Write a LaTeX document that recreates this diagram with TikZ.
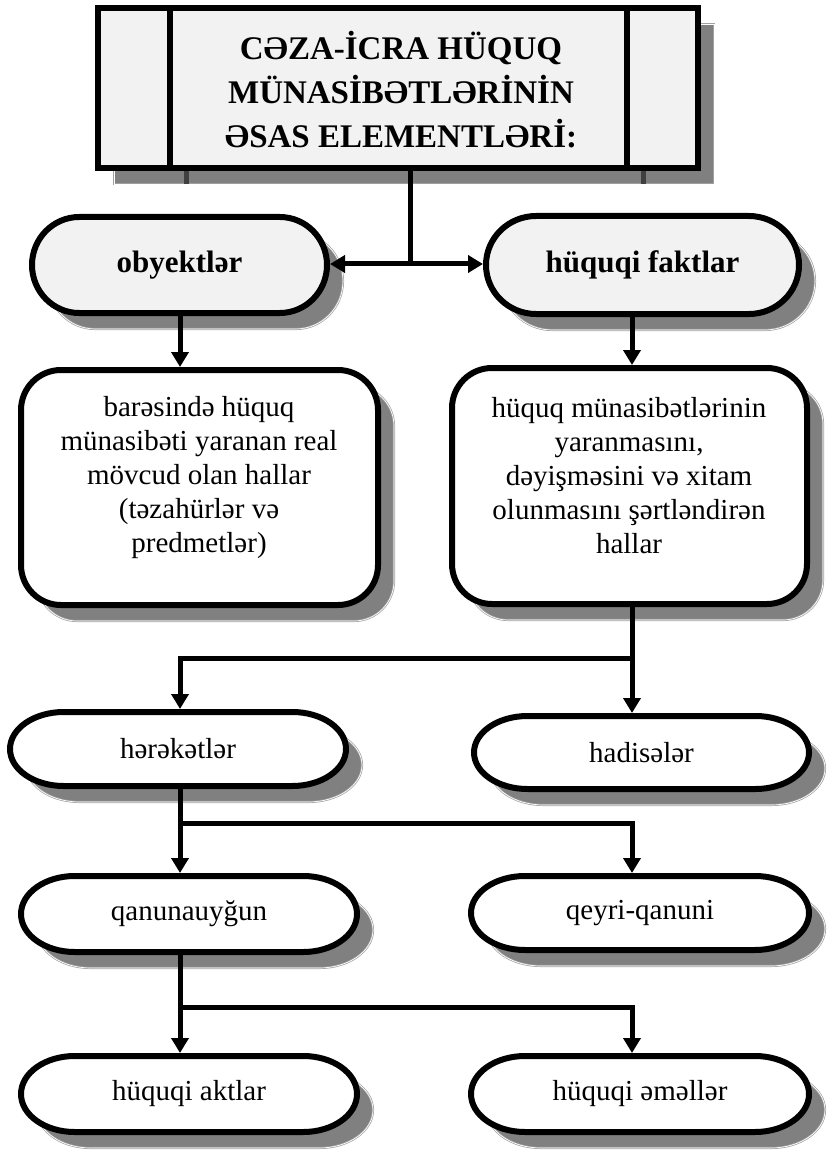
\documentclass[tikz,border=0pt]{standalone}
\usepackage{fontspec}
\setmainfont{Liberation Serif}
\usetikzlibrary{arrows.meta,shadows}
\definecolor{boxgray}{HTML}{F2F2F2}
\definecolor{shadowgray}{HTML}{808080}
\definecolor{shadowedge}{HTML}{A0A0A0}
\definecolor{stripegray}{HTML}{404040}
\tikzset{
  shad/.style={drop shadow={shadow xshift=16pt, shadow yshift=-16pt, opacity=1,
      fill=shadowgray, draw=shadowedge, line width=0.7pt, double=white, double distance=0.7pt}},
  shadowpath/.style={fill=shadowgray, draw=shadowedge, line width=0.7pt, double=white, double distance=0.7pt},
  borderpath/.style={draw=black, line width=6pt},
  boxbase/.style={draw=black, line width=6pt, inner sep=0pt, shad},
  bigbox/.style={boxbase, fill=white, rounded corners=40pt},
  pilltext/.style={inner sep=0pt, outer sep=0pt, font=\fontsize{29}{34}\selectfont},
  boldtext/.style={inner sep=0pt, outer sep=0pt, font=\bfseries\fontsize{31}{36}\selectfont},
  bodytext/.style={inner sep=0pt, align=center, font=\fontsize{29}{34}\selectfont},
  titletext/.style={inner sep=0pt, align=center, font=\bfseries\fontsize{33}{44}\selectfont},
  conn/.style={line width=5pt, draw=black},
  arr/.style={conn, -{Triangle[width=17pt,length=15pt]}},
  stripe/.style={line width=5pt, draw=stripegray}
}
% terminator outline: #1 cx, #2 cy, #3 width, #4 height (of border centre line), #5 fill
\newcommand{\termshape}[5]{%
  \pgfmathsetmacro{\tmRX}{0.16*#3}%
  \pgfmathsetmacro{\tmRY}{#4/2}%
  \pgfmathsetmacro{\tmL}{#1-#3/2+\tmRX}%
  \pgfmathsetmacro{\tmR}{#1+#3/2-\tmRX}%
  \pgfmathsetmacro{\tmT}{#2-\tmRY}%
  \pgfmathsetmacro{\tmB}{#2+\tmRY}%
  \path[shadowpath] (\tmR+16,\tmT+16) arc[start angle=-90,end angle=90,x radius=\tmRX,y radius=\tmRY]
     -- (\tmL+16,\tmB+16) arc[start angle=90,end angle=270,x radius=\tmRX,y radius=\tmRY] -- cycle;
  \path[borderpath, fill=#5] (\tmR,\tmT) arc[start angle=-90,end angle=90,x radius=\tmRX,y radius=\tmRY]
     -- (\tmL,\tmB) arc[start angle=90,end angle=270,x radius=\tmRX,y radius=\tmRY] -- cycle;
}
\begin{document}
\begin{tikzpicture}[x=1pt,y=-1pt]
\useasboundingbox (0,0) rectangle (829,1155);
% title box
\node[boxbase, fill=boxgray, minimum width=600pt, minimum height=160pt] (title) at (398,88) {};
\draw[stripe] (186,171) -- (186,184);
\draw[stripe] (643,171) -- (643,184);
\draw[line width=6pt] (170,8) -- (170,168);
\draw[line width=6pt] (627,8) -- (627,168);
\node[titletext] (ttl) at (401,90) {CƏZA-İCRA HÜQUQ\\MÜNASİBƏTLƏRİNİN\\ƏSAS ELEMENTLƏRİ:};
% second level
\termshape{179.5}{265}{295}{96}{boxgray}
\node[boldtext, minimum width=301pt, minimum height=102pt] (obj) at (179.5,265) {obyektlər};
\termshape{642.5}{265}{313}{98}{boxgray}
\node[boldtext, minimum width=319pt, minimum height=104pt] (fakt) at (642.5,265) {hüquqi faktlar};
% big boxes
\node[bigbox, minimum width=357pt, minimum height=235pt] (lbox) at (199.5,487.5) {};
\node[bodytext] (ltext) at (199,478) {barəsində hüquq\\münasibəti yaranan real\\mövcud olan hallar\\(təzahürlər və\\predmetlər)};
\node[bigbox, minimum width=355pt, minimum height=236pt] (rbox) at (629.5,486) {};
\node[bodytext] (rtext) at (629,476) {hüquq münasibətlərinin\\yaranmasını,\\dəyişməsini və xitam\\olunmasını şərtləndirən\\hallar};
% lower pills
\termshape{178}{749}{336}{74}{white}
\node[pilltext, minimum width=342pt, minimum height=80pt] (her) at (178,749) {hərəkətlər};
\termshape{641.5}{752.5}{335}{73}{white}
\node[pilltext, minimum width=341pt, minimum height=79pt] (had) at (641.5,752.5) {hadisələr};
\termshape{189}{914}{336}{76}{white}
\node[pilltext, minimum width=342pt, minimum height=82pt] (qan) at (189,914) {qanunauyğun};
\termshape{640}{913}{338}{74}{white}
\node[pilltext, minimum width=344pt, minimum height=80pt] (qey) at (640,913) {qeyri-qanuni};
\termshape{189}{1094}{336}{76}{white}
\node[pilltext, minimum width=342pt, minimum height=82pt] (akt) at (189,1094) {hüquqi aktlar};
\termshape{640}{1094}{338}{76}{white}
\node[pilltext, minimum width=344pt, minimum height=82pt] (eml) at (640,1094) {hüquqi əməllər};
% coordinates
\coordinate (cl) at (180,0);
\coordinate (cr) at (632,0);
\coordinate (j1) at (410,264);
\coordinate (j2) at (632,658);
\coordinate (j3) at (180,823);
\coordinate (j4) at (180,1007);
% connectors
\draw[conn] (title.south -| j1) -- (j1);
\draw[arr] (j1) -- (obj.east |- j1);
\draw[arr] (j1) -- (fakt.west |- j1);
\draw[arr] (obj.south -| cl) -- (lbox.north -| cl);
\draw[arr] (fakt.south -| cr) -- (rbox.north -| cr);
\draw[conn] (rbox.south -| cr) -- (j2);
\draw[arr] (j2) -| (her.north -| cl);
\draw[arr] (j2) -- (had.north -| cr);
\draw[conn] (her.south -| cl) -- (j3);
\draw[arr] (j3) -- (qan.north -| cl);
\draw[arr] (j3) -| (qey.north -| cr);
\draw[conn] (qan.south -| cl) -- (j4);
\draw[arr] (j4) -- (akt.north -| cl);
\draw[arr] (j4) -| (eml.north -| cr);
\end{tikzpicture}
\end{document}
